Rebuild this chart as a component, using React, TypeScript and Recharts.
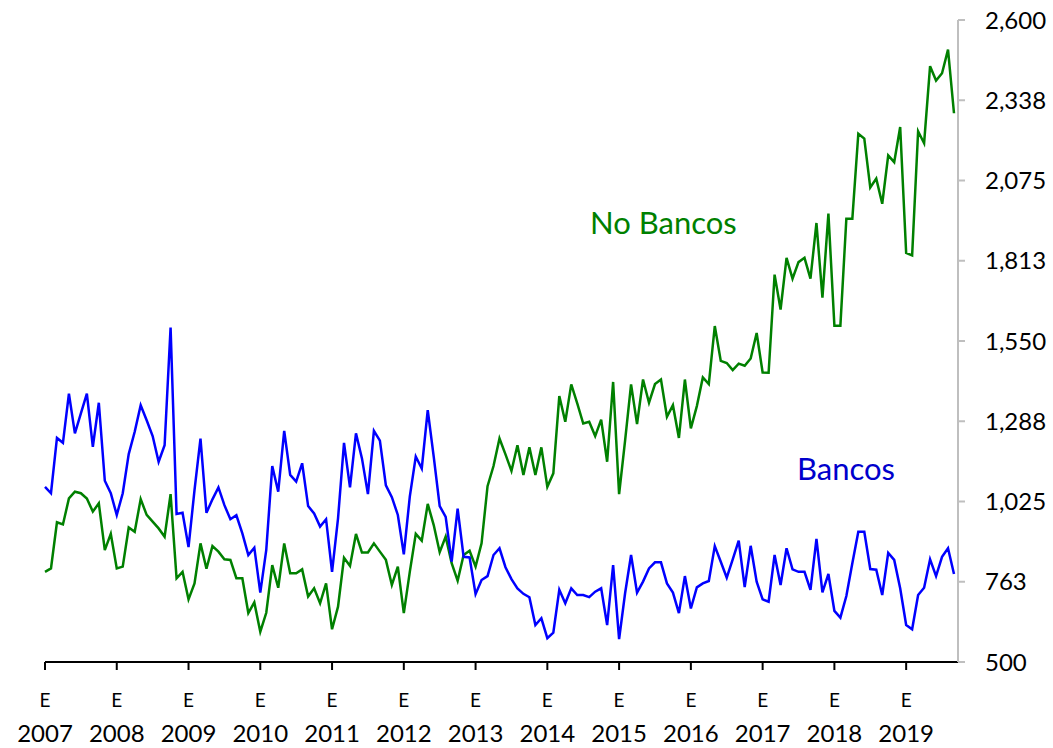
import { LineChart, Line, XAxis, YAxis } from "recharts";

// monthly values, Jan 2007 .. Sep 2019
const years = [2007, 2008, 2009, 2010, 2011, 2012, 2013, 2014, 2015, 2016, 2017, 2018, 2019];

const bancos = [
  1073, 1052, 1233, 1217, 1378, 1248, 1313, 1378, 1204, 1348, 1093, 1052,
  981, 1052, 1180, 1253, 1340, 1291, 1239, 1155, 1209, 1594, 984, 988,
  876, 1062, 1231, 988, 1032, 1071, 1013, 967, 980, 921, 850, 874,
  727, 867, 1141, 1057, 1256, 1112, 1090, 1150, 1010, 986, 943, 967,
  795, 970, 1217, 1071, 1248, 1166, 1049, 1256, 1224, 1078, 1039, 981,
  852, 1041, 1172, 1133, 1324, 1172, 1010, 975, 828, 1002, 844, 842,
  722, 768, 781, 850, 872, 810, 771, 741, 723, 712, 621, 643,
  578, 596, 736, 692, 741, 719, 719, 712, 730, 741, 621, 817,
  575, 725, 850, 727, 763, 806, 826, 826, 757, 727, 660, 781,
  675, 744, 757, 765, 879, 828, 776, 836, 897, 745, 880, 763,
  705, 697, 850, 752, 872, 803, 795, 795, 736, 903, 728, 788,
  667, 645, 716, 823, 926, 926, 804, 802, 719, 857, 834, 741,
  621, 607, 719, 743, 836, 781, 844, 872, 788,
];

const noBancos = [
  795, 806, 957, 950, 1035, 1057, 1052, 1035, 992, 1019, 866, 919,
  806, 812, 940, 926, 1033, 981, 959, 937, 910, 1049, 774, 795,
  705, 757, 888, 805, 879, 861, 836, 834, 774, 774, 660, 695,
  599, 661, 817, 743, 888, 790, 790, 803, 714, 741, 692, 757,
  607, 681, 841, 814, 919, 858, 858, 888, 861, 834, 752, 812,
  660, 795, 919, 897, 1017, 948, 859, 910, 823, 766, 850, 864,
  812, 888, 1075, 1141, 1231, 1179, 1125, 1209, 1112, 1202, 1112, 1202,
  1073, 1117, 1370, 1286, 1408, 1346, 1280, 1286, 1239, 1293, 1155, 1416,
  1049, 1224, 1408, 1278, 1424, 1348, 1409, 1424, 1302, 1340, 1233, 1424,
  1264, 1337, 1431, 1409, 1599, 1485, 1478, 1455, 1476, 1469, 1493, 1576,
  1447, 1446, 1767, 1653, 1822, 1754, 1808, 1822, 1754, 1936, 1692, 1967,
  1600, 1600, 1950, 1950, 2228, 2212, 2052, 2081, 1999, 2157, 2135, 2250,
  1838, 1830, 2236, 2197, 2449, 2402, 2426, 2503, 2295,
];

const yTicks = [500, 762.5, 1025, 1287.5, 1550, 1812.5, 2075, 2337.5, 2600];

const months = bancos.map((_, i) => {
  const y = years[Math.floor(i / 12)];
  const m = (i % 12) + 1;
  return `${y}-${m < 10 ? "0" + m : m}`;
});
const janTicks = years.map((y) => `${y}-01`);

const data = months.map((month, i) => ({
  month,
  bancos: bancos[i],
  noBancos: noBancos[i],
}));

const FONT = "Lato, 'Open Sans', sans-serif";

function YearTick(props: any) {
  const { x, y, payload } = props;
  const year = String(payload.value).slice(0, 4);
  return (
    <g transform={`translate(${x},${y})`}>
      <text y={37} textAnchor="middle" fontSize={19} fill="#000" fontFamily={FONT}>
        E
      </text>
      <text y={72} textAnchor="middle" fontSize={24} fill="#000" fontFamily={FONT}>
        {year}
      </text>
    </g>
  );
}

export default function App() {
  return (
    <div
      style={{
        position: "absolute",
        left: 0,
        top: 0,
        width: 1053,
        height: 748,
        background: "#fff",
        fontFamily: FONT,
      }}
    >
      <LineChart
        width={1053}
        height={748}
        data={data}
        margin={{ top: 20, right: 0, bottom: 0, left: 45 }}
      >
        <XAxis
          dataKey="month"
          ticks={janTicks}
          interval={0}
          tickSize={8}
          tickMargin={0}
          height={86}
          padding={{ left: 0, right: 4 }}
          axisLine={{ stroke: "#000", strokeWidth: 2 }}
          tickLine={{ stroke: "#000", strokeWidth: 2 }}
          tick={<YearTick />}
        />
        <YAxis
          orientation="right"
          domain={[500, 2600]}
          ticks={yTicks}
          interval={0}
          width={95}
          tickSize={7}
          tickMargin={20}
          axisLine={{ stroke: "#bfbfbf", strokeWidth: 2 }}
          tickLine={{ stroke: "#bfbfbf", strokeWidth: 2 }}
          tick={{ fill: "#000", fontSize: 24, fontFamily: FONT }}
          tickFormatter={(v: number) => Math.round(v).toLocaleString("en-US")}
        />
        <Line
          type="linear"
          dataKey="noBancos"
          stroke="#008000"
          strokeWidth={2.5}
          dot={false}
          isAnimationActive={false}
        />
        <Line
          type="linear"
          dataKey="bancos"
          stroke="#0000ff"
          strokeWidth={2.5}
          dot={false}
          isAnimationActive={false}
        />
      </LineChart>
      <div
        style={{
          position: "absolute",
          left: 590,
          top: 203,
          fontSize: 31,
          lineHeight: "38px",
          color: "#008000",
          whiteSpace: "nowrap",
        }}
      >
        No Bancos
      </div>
      <div
        style={{
          position: "absolute",
          left: 797,
          top: 449,
          fontSize: 31,
          lineHeight: "38px",
          color: "#0000cc",
          whiteSpace: "nowrap",
        }}
      >
        Bancos
      </div>
    </div>
  );
}
